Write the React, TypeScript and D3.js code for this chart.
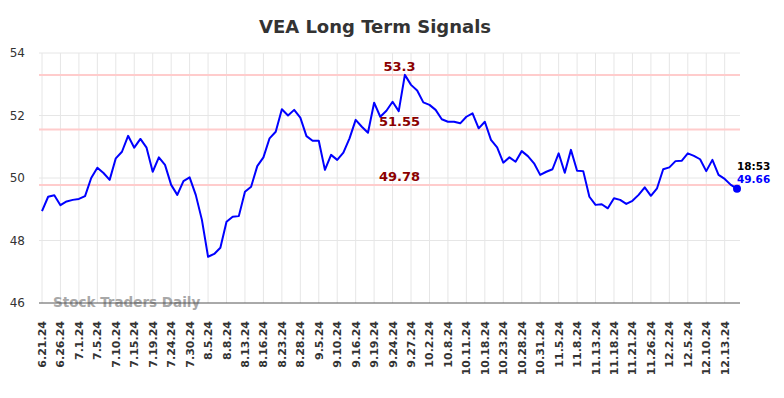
import React from "react";
import * as d3 from "d3";

const title = "VEA Long Term Signals";
const tickLabels = [
  "6.21.24","6.26.24","7.1.24","7.5.24","7.10.24","7.15.24","7.19.24","7.24.24","7.30.24","8.5.24",
  "8.8.24","8.13.24","8.16.24","8.23.24","8.28.24","9.5.24","9.10.24","9.16.24","9.19.24","9.24.24",
  "9.27.24","10.2.24","10.8.24","10.11.24","10.18.24","10.23.24","10.28.24","10.31.24","11.5.24","11.8.24",
  "11.13.24","11.18.24","11.21.24","11.26.24","12.2.24","12.5.24","12.10.24","12.13.24",
];
const tickStep = 3;
const prices = [
  48.94,49.4,49.45,49.13,49.25,49.3,49.33,49.42,50.0,50.33,
  50.16,49.94,50.63,50.84,51.35,50.97,51.25,50.97,50.2,50.66,
  50.42,49.78,49.46,49.9,50.02,49.46,48.66,47.48,47.57,47.77,
  48.6,48.76,48.78,49.56,49.72,50.38,50.66,51.27,51.48,52.2,
  52.0,52.18,51.93,51.34,51.19,51.19,50.26,50.74,50.58,50.81,
  51.27,51.86,51.64,51.45,52.41,51.96,52.15,52.44,52.14,53.3,
  52.98,52.8,52.42,52.34,52.18,51.88,51.8,51.8,51.75,51.96,
  52.07,51.59,51.8,51.22,50.98,50.49,50.66,50.52,50.86,50.7,
  50.47,50.1,50.2,50.28,50.79,50.17,50.9,50.23,50.22,49.4,
  49.14,49.16,49.03,49.35,49.3,49.17,49.27,49.46,49.7,49.43,
  49.67,50.28,50.34,50.54,50.55,50.79,50.71,50.6,50.22,50.58,
  50.1,49.97,49.78,49.66,
];
const yTicks = [46, 48, 50, 52, 54];
const levels = [53.3, 51.55, 49.78];
const levelLabels = ["53.3", "51.55", "49.78"];
const lastTime = "18:53";
const lastLabel = "49.66";

export default function App() {
  const W = 784, H = 398;
  const x = d3.scaleLinear().domain([0, prices.length - 1]).range([42, 737]);
  const y = d3.scaleLinear().domain([46, 54]).range([303, 53]);
  const left = 39, right = 740;
  const line = d3.line<number>().x((_, i) => x(i)).y((d) => y(d));
  const font = "'DejaVu Sans', sans-serif";
  const lastIdx = prices.length - 1;
  return (
    <svg width={W} height={H} style={{ position: "absolute", left: 0, top: 0 }} fontFamily={font}>
      <rect width={W} height={H} fill="#fff" />
      <text x={375} y={33} textAnchor="middle" fontSize={18} fontWeight="bold" fill="#333">{title}</text>
      {yTicks.filter((t) => t !== 46).map((t) => (
        <line key={"h" + t} x1={left} x2={right} y1={y(t)} y2={y(t)} stroke="#e6e6e6" strokeWidth={1} />
      ))}
      {tickLabels.map((lab, k) => (
        <line key={"v" + lab} x1={x(k * tickStep)} x2={x(k * tickStep)} y1={y(54)} y2={y(46)} stroke="#e6e6e6" strokeWidth={1} />
      ))}
      {yTicks.map((t) => (
        <text key={"yl" + t} x={25} y={y(t) + 4} textAnchor="end" fontSize={12} fill="#333">{t}</text>
      ))}
      {levels.map((lv) => (
        <line key={"l" + lv} x1={left} x2={right} y1={y(lv)} y2={y(lv)} stroke="#ffcccc" strokeWidth={2} />
      ))}
      <text x={53} y={307} fontSize={13.5} fontWeight="bold" fill="#999" opacity={0.85}>Stock Traders Daily</text>
      <line x1={left} x2={right} y1={y(46)} y2={y(46)} stroke="#555" strokeWidth={1} />
      {levels.map((lv, i) => (
        <text key={"lt" + lv} x={399.5} y={y(lv) - 3.5} textAnchor="middle" fontSize={13} fontWeight="bold" fill="#8b0000">{levelLabels[i]}</text>
      ))}
      <path d={line(prices) || ""} fill="none" stroke="#0000ff" strokeWidth={2} strokeLinejoin="round" />
      <circle cx={x(lastIdx)} cy={y(prices[lastIdx])} r={4} fill="#0000ff" />
      <text x={737} y={169.5} fontSize={10.5} fontWeight="bold" fill="#000">{lastTime}</text>
      <text x={737} y={183} fontSize={10.5} fontWeight="bold" fill="#0000ff">{lastLabel}</text>
      {tickLabels.map((lab, k) => (
        <text key={"xl" + lab} transform={`translate(${x(k * tickStep) + 4},321) rotate(-90)`} textAnchor="end" fontSize={11} fontWeight="bold" fill="#333">{lab}</text>
      ))}
    </svg>
  );
}
